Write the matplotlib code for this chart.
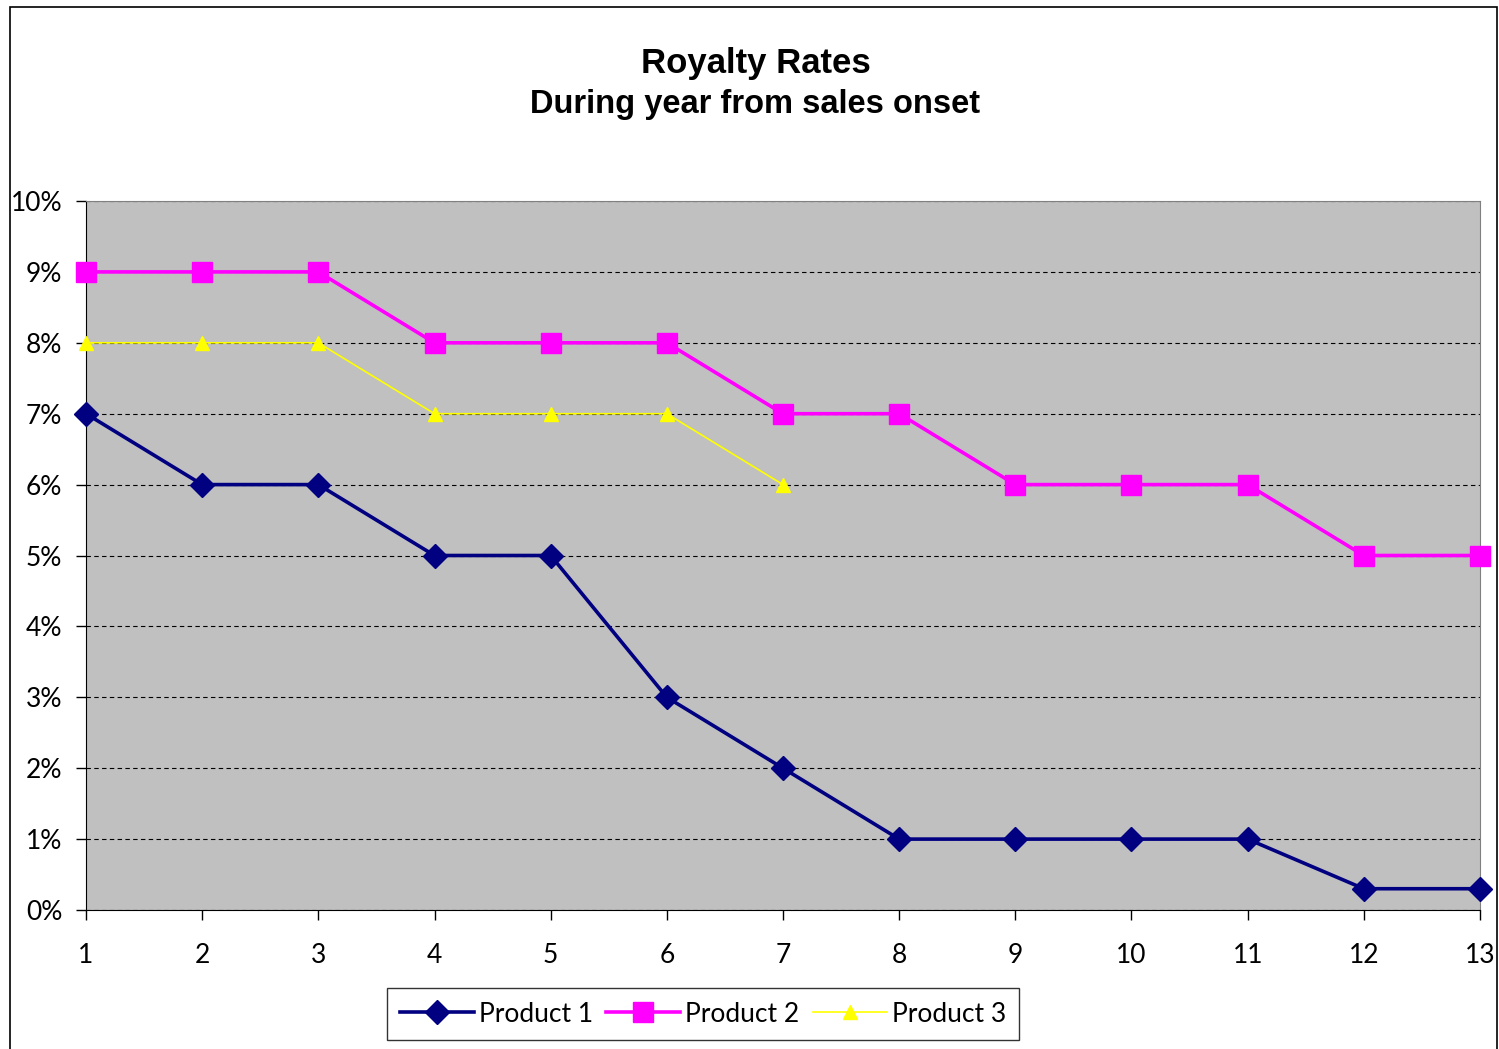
import matplotlib
matplotlib.use("Agg")
import matplotlib.pyplot as plt
from matplotlib.patches import Rectangle
from matplotlib.ticker import FuncFormatter

years = list(range(1, 14))
product1 = [7, 6, 6, 5, 5, 3, 2, 1, 1, 1, 1, 0.3, 0.3]
product2 = [9, 9, 9, 8, 8, 8, 7, 7, 6, 6, 6, 5, 5]
product3_years = [1, 2, 3, 4, 5, 6, 7]
product3 = [8, 8, 8, 7, 7, 7, 6]

fig = plt.figure(figsize=(14.99, 10.49), dpi=100)
fig.patches.append(Rectangle((10 / 1499, -0.01), 1487 / 1499, 1 - 7 / 1049 + 0.01,
                             transform=fig.transFigure, fill=False,
                             edgecolor="black", linewidth=1.2))

ax = fig.add_axes([86 / 1499, 1 - 910 / 1049, 1394 / 1499, 709 / 1049])
ax.set_facecolor("#C0C0C0")

ax.plot(years, product1, color="#000080", lw=2.6, marker="D", ms=12,
        label="Product 1", zorder=4, clip_on=False)
ax.plot(years, product2, color="#FF00FF", lw=2.6, marker="s", ms=14,
        label="Product 2", zorder=3, clip_on=False)
ax.plot(product3_years, product3, color="#FFFF00", lw=1.2, marker="^", ms=10,
        label="Product 3", zorder=5, clip_on=False)

ax.set_xlim(1, 13)
ax.set_ylim(0, 10)
ax.set_xticks(years)
ax.set_yticks(range(0, 11))
ax.yaxis.set_major_formatter(FuncFormatter(lambda v, p: f"{v:.0f}%"))
ax.grid(axis="y", color="black", linestyle=(0, (4, 3)), linewidth=0.8)
ax.set_axisbelow(True)

for s in ["top", "right"]:
    ax.spines[s].set_color("#808080")
for s in ["left", "bottom"]:
    ax.spines[s].set_color("black")
ax.tick_params(axis="both", direction="out", length=7, width=1,
               labelsize=19, colors="black")
ax.tick_params(axis="x", pad=17)
ax.tick_params(axis="y", pad=10)
for lbl in ax.get_xticklabels() + ax.get_yticklabels():
    lbl.set_fontfamily("Lato")

fig.text(0.504, 1 - 64 / 1049, "Royalty Rates", ha="center", va="center",
         fontsize=25, fontweight="bold", family="Liberation Sans")
fig.text(0.504, 1 - 105 / 1049, "During year from sales onset", ha="center",
         va="center", fontsize=23.5, fontweight="bold", family="Liberation Sans")

leg = fig.legend(loc="center", bbox_to_anchor=(703 / 1499, 1 - 1014 / 1049),
                 ncol=3, frameon=True, fancybox=False, edgecolor="black",
                 prop={"family": "Lato", "size": 19}, handlelength=2.8,
                 handletextpad=0.2, columnspacing=0.5, borderpad=0.5)
leg.get_frame().set_linewidth(1)

fig.savefig("out.png", dpi=100)
